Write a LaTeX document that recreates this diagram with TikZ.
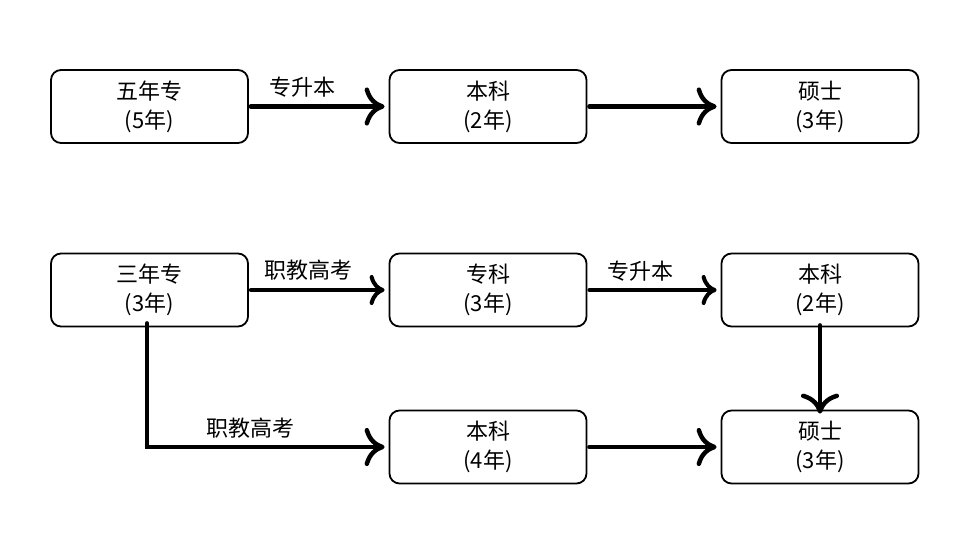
\documentclass[tikz,border=0pt]{standalone}
\usepackage{fontspec}
\setmainfont{Noto Sans CJK SC}
\usetikzlibrary{arrows.meta}
\begin{document}
\begin{tikzpicture}[x=1pt,y=-1pt,
  box/.style={draw=black,line width=1.8pt,rounded corners=10pt,minimum width=197pt,minimum height=73pt,align=center,font=\fontsize{22}{29}\selectfont,inner sep=0pt},
  conn/.style={line width=4.5pt,line cap=round,-{Computer Modern Rightarrow[length=20pt,width=38pt,line width=4.5pt]}},
  connS/.style={line width=4pt,line cap=round,-{Computer Modern Rightarrow[length=15pt,width=30pt,line width=4pt]}},
  lbl/.style={font=\fontsize{22}{24}\selectfont,inner sep=0pt}]
\useasboundingbox (0,0) rectangle (973,534);
% row 1
\node[box] (a1) at (149.5,106.5) {五年专\\(5年)};
\node[box] (b1) at (488,106.5) {本科\\(2年)};
\node[box] (c1) at (820,106.5) {硕士\\(3年)};
% row 2
\node[box] (a2) at (149.5,290) {三年专\\(3年)};
\node[box] (b2) at (488,290) {专科\\(3年)};
\node[box] (c2) at (820,290) {本科\\(2年)};
% row 3
\node[box] (b3) at (488,447) {本科\\(4年)};
\node[box] (c3) at (820,447) {硕士\\(3年)};
% connectors
\draw[conn] ([xshift=2pt]a1.east) -- ([xshift=-4pt]b1.west);
\draw[conn] ([xshift=2pt]b1.east) -- ([xshift=-4pt]c1.west);
\draw[connS] ([xshift=2pt]a2.east) -- ([xshift=-4pt]b2.west);
\draw[connS] ([xshift=2pt]b2.east) -- ([xshift=-4pt]c2.west);
\draw[conn] ([yshift=2pt]c2.south) -- ([yshift=-4pt]c3.north);
\coordinate (corner) at (147,447);
\draw[conn] ([xshift=-2.5pt,yshift=4pt]a2.south) -- (corner) -- ([xshift=-4pt]b3.west);
\draw[conn] ([xshift=2pt]b3.east) -- ([xshift=-4pt]c3.west);
% labels
\node[lbl] (l1) at (302,87) {专升本};
\node[lbl] (l2) at (308,270) {职教高考};
\node[lbl] (l3) at (640,271) {专升本};
\node[lbl] (l4) at (250,428) {职教高考};
\end{tikzpicture}
\end{document}
